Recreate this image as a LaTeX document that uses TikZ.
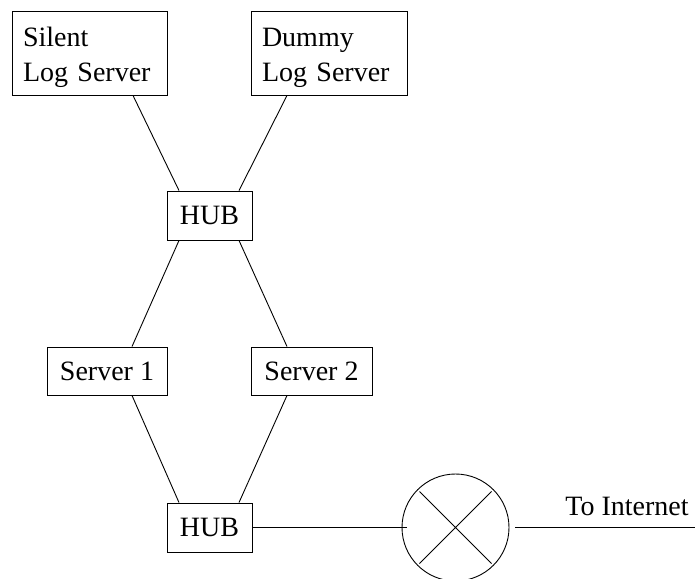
\documentclass[tikz,border=0pt]{standalone}
\usepackage{fontspec}
\setmainfont{Liberation Serif}
\begin{document}
\begin{tikzpicture}[x=1pt,y=-1pt,line width=0.9pt,
  box/.style={draw,inner sep=0pt,font=\fontsize{28}{35}\selectfont},
  conn/.style={draw}]
\useasboundingbox (0,0) rectangle (695,578);
\node[box,minimum width=155pt,minimum height=84pt,align=left,text width=133pt] (silent) at (89.5,53) {\rule{0pt}{29pt}Silent\\Log Server};
\node[box,minimum width=156pt,minimum height=84pt,align=left,text width=134pt] (dummy) at (329,53) {\rule{0pt}{29pt}Dummy\\Log Server};
\node[box,minimum width=85pt,minimum height=49pt] (hub1) at (209.5,215.5) {HUB};
\node[box,minimum width=120pt,minimum height=48pt] (s1) at (107,371) {Server 1};
\node[box,minimum width=121pt,minimum height=48pt] (s2) at (311.5,371) {Server 2};
\node[box,minimum width=85pt,minimum height=49pt] (hub2) at (209.5,527.5) {HUB};
\node[draw,circle,minimum size=107pt,inner sep=0pt] (gw) at (455.5,527.5) {};
\coordinate (net) at (695,527.5);
\node[font=\fontsize{28}{35}\selectfont,anchor=base west,inner sep=0pt] (lbl) at (565,515) {To Internet};
\draw ([xshift=43.5pt]silent.south) -- ([xshift=-30.5pt]hub1.north);
\draw ([xshift=-42pt]dummy.south) -- ([xshift=29.5pt]hub1.north);
\draw ([xshift=-30.5pt]hub1.south) -- ([xshift=25pt]s1.north);
\draw ([xshift=29.5pt]hub1.south) -- ([xshift=-24.5pt]s2.north);
\draw ([xshift=25pt]s1.south) -- ([xshift=-30.5pt]hub2.north);
\draw ([xshift=-24.5pt]s2.south) -- ([xshift=29.5pt]hub2.north);
\draw (hub2.east) -- ([xshift=5pt]gw.west);
\draw ([xshift=6pt]gw.east) -- (net);
\path (gw.center) ++(-36pt,-36pt) coordinate (c1) (gw.center) ++(36pt,36pt) coordinate (c2);
\path (gw.center) ++(36pt,-36pt) coordinate (c3) (gw.center) ++(-36pt,36pt) coordinate (c4);
\draw (c1) -- (c2) (c3) -- (c4);
\end{tikzpicture}
\end{document}
